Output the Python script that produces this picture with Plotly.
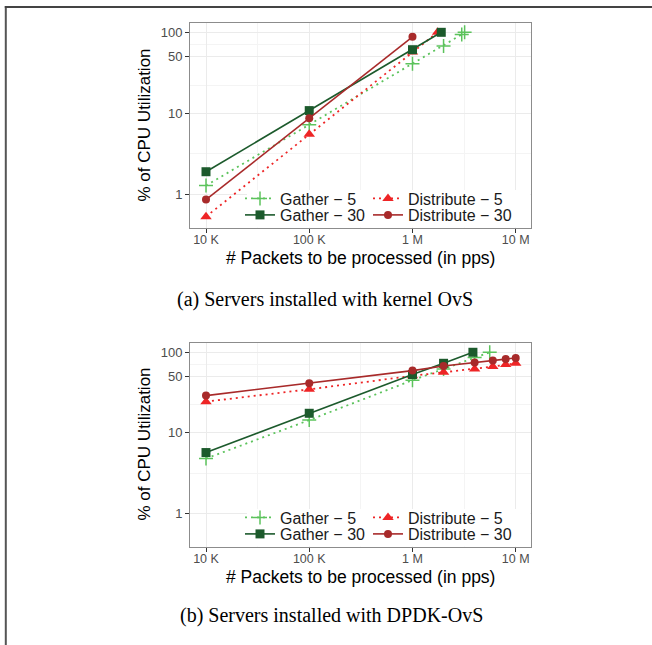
import plotly.graph_objects as go

W, H = 652, 645

# ---------------- data ----------------
# Panel (a): kernel OvS
a_g5_x = [1e4, 1e5, 1e6, 2e6, 3e6, 3.2e6]
a_g5_y = [1.28, 7.2, 41, 68, 94, 100]
a_g30_x = [1e4, 1e5, 1e6, 1.9e6]
a_g30_y = [1.9, 10.8, 61, 100]
a_d5_x = [1e4, 1e5, 1e6, 1.75e6]
a_d5_y = [0.53, 5.5, 57, 100]
a_d30_x = [1e4, 1e5, 1e6]
a_d30_y = [0.86, 8.7, 88]

# Panel (b): DPDK-OvS
b_g5_x = [1e4, 1e5, 1e6, 2e6, 4e6, 5.6e6]
b_g5_y = [4.8, 14.4, 45, 62, 86, 100]
b_g30_x = [1e4, 1e5, 1e6, 2e6, 3.85e6]
b_g30_y = [5.7, 17.5, 53, 73, 100]
b_d5_x = [1e4, 1e5, 1e6, 2e6, 4e6, 6e6, 8e6, 1e7]
b_d5_y = [24.4, 34.7, 51, 56.5, 62, 66.4, 70.3, 73]
b_d30_x = [1e4, 1e5, 1e6, 2e6, 4e6, 6e6, 8e6, 1e7]
b_d30_y = [29, 41.2, 59.2, 67.6, 74.5, 78.8, 82.7, 85]

x_tickvals = [1e4, 1e5, 1e6, 1e7]
x_ticktext = ["10 K", "100 K", "1 M", "10 M"]
y_tickvals = [1, 10, 50, 100]
y_ticktext = ["1", "10", "50", "100"]
x_minor = [10 ** 4.5, 10 ** 5.5, 10 ** 6.5]
y_minor = [10 ** 0.5, 10 ** 1.349, 10 ** 1.849]

names = ["Gather − 5", "Distribute − 5", "Gather − 30", "Distribute − 30"]
colors = ["#5CC35C", "#EE2526", "#1C5A2C", "#A82A2A"]
symbols = ["cross-thin", "triangle-up", "square", "circle"]
sizes = [10, 10, 9, 8]
dashes = ["2px,4px", "2px,4px", "solid", "solid"]

caption_a = "(a) Servers installed with kernel OvS"
caption_b = "(b) Servers installed with DPDK-OvS"
x_title = "# Packets to be processed (in pps)"
y_title = "% of CPU Utilization"

FONT = "Liberation Sans, Arial, Helvetica, sans-serif"
SERIF = "Liberation Serif, Times New Roman, serif"

def px(v):
    return v / W

def py(v):
    return 1 - v / H

fig = go.Figure()

panels = [
    ("x", "y", [(a_g5_x, a_g5_y), (a_d5_x, a_d5_y), (a_g30_x, a_g30_y), (a_d30_x, a_d30_y)], 0),
    ("x2", "y2", [(b_g5_x, b_g5_y), (b_d5_x, b_d5_y), (b_g30_x, b_g30_y), (b_d30_x, b_d30_y)], 319),
]

# legend placement (text start x, row centre y) for panel a; panel b shifted
leg_pos = [(280, 198.5), (408, 198.5), (280, 215), (408, 215)]

leg_idx = 0
for xa, ya, series, off in panels:
    for i, (xs, ys) in enumerate(series):
        leg_idx += 1
        lname = "legend" if leg_idx == 1 else f"legend{leg_idx}"
        mk = dict(symbol=symbols[i], size=sizes[i], color=colors[i])
        if symbols[i] == "cross-thin":
            mk["line"] = dict(color=colors[i], width=1.5)
        fig.add_trace(go.Scatter(
            x=xs, y=ys, xaxis=xa, yaxis=ya, name=names[i], mode="lines+markers",
            line=dict(color=colors[i], width=1.8 if dashes[i] != "solid" else 1.6,
                      dash=dashes[i]),
            marker=mk, legend=lname, showlegend=True,
        ))
        tx, ty = leg_pos[i]
        fig.update_layout(**{lname: dict(
            x=px(tx - 40), xanchor="left", y=py(ty + off), yanchor="middle",
            bgcolor="rgba(0,0,0,0)", borderwidth=0,
            font=dict(family=FONT, size=16, color="#1A1A1A"),
            orientation="h", itemwidth=30,
        )})

x_dom = [px(190), px(531)]
y1_dom = [py(228), py(23)]
y2_dom = [py(547), py(343)]

def xaxis_cfg(anchor):
    return dict(
        type="log", range=[3.845, 7.148], domain=x_dom, anchor=anchor,
        tickmode="array", tickvals=x_tickvals, ticktext=x_ticktext,
        showgrid=True, gridcolor="#EBEBEB", gridwidth=1,
        minor=dict(tickmode="array", tickvals=x_minor, showgrid=True,
                   gridcolor="#F4F4F4", gridwidth=1, ticks=""),
        showline=True, mirror=True, linecolor="#8C8C8C", linewidth=1,
        ticks="outside", ticklen=4, tickcolor="#333333", tickwidth=1,
        ticklabelstandoff=-4,
        tickfont=dict(family=FONT, size=12.5, color="#4D4D4D"),
        zeroline=False, automargin=False, fixedrange=True,
    )

def yaxis_cfg(anchor, dom):
    return dict(
        type="log", range=[-0.416, 2.115], domain=dom, anchor=anchor,
        tickmode="array", tickvals=y_tickvals, ticktext=y_ticktext,
        showgrid=True, gridcolor="#EBEBEB", gridwidth=1,
        minor=dict(tickmode="array", tickvals=y_minor, showgrid=True,
                   gridcolor="#F4F4F4", gridwidth=1, ticks=""),
        showline=True, mirror=True, linecolor="#8C8C8C", linewidth=1,
        ticks="outside", ticklen=4, tickcolor="#333333", tickwidth=1,
        tickfont=dict(family=FONT, size=13, color="#4D4D4D"),
        zeroline=False, automargin=False, fixedrange=True,
    )

annotations = []
for off, cap, capx in [(0, caption_a, 325), (319, caption_b, 332)]:
    annotations.append(dict(text=x_title, x=px(360.5), y=py(257.5 + off), xref="paper", yref="paper",
                            showarrow=False, xanchor="center", yanchor="middle",
                            font=dict(family=FONT, size=17.5, color="#000000")))
    annotations.append(dict(text=y_title, x=px(144), y=py(125.5 + off), xref="paper", yref="paper",
                            showarrow=False, xanchor="center", yanchor="middle", textangle=-90,
                            font=dict(family=FONT, size=17, color="#000000")))
    annotations.append(dict(text=cap, x=px(capx), y=py(300 + off * 0.99), xref="paper", yref="paper",
                            showarrow=False, xanchor="center", yanchor="middle",
                            font=dict(family=SERIF, size=20, color="#000000")))

shapes = []
# legend background boxes
for off in (0, 319):
    shapes.append(dict(type="rect", xref="paper", yref="paper",
                       x0=px(247), x1=px(530.3), y0=py(227.4 + off), y1=py(190 + off),
                       fillcolor="white", line=dict(width=0), layer="above"))
# outer frame (left and top rules)
shapes.append(dict(type="line", xref="paper", yref="paper", x0=px(5.8), x1=px(5.8),
                   y0=0, y1=py(6), line=dict(color="#555555", width=2)))
shapes.append(dict(type="line", xref="paper", yref="paper", x0=px(4.8), x1=1,
                   y0=py(7), y1=py(7), line=dict(color="#444444", width=2)))

fig.update_layout(
    width=W, height=H,
    margin=dict(l=0, r=0, t=0, b=0),
    paper_bgcolor="white", plot_bgcolor="white",
    xaxis=xaxis_cfg("y"), yaxis=yaxis_cfg("x", y1_dom),
    xaxis2=xaxis_cfg("y2"), yaxis2=yaxis_cfg("x2", y2_dom),
    annotations=annotations, shapes=shapes,
)

fig.write_html("out.html")
